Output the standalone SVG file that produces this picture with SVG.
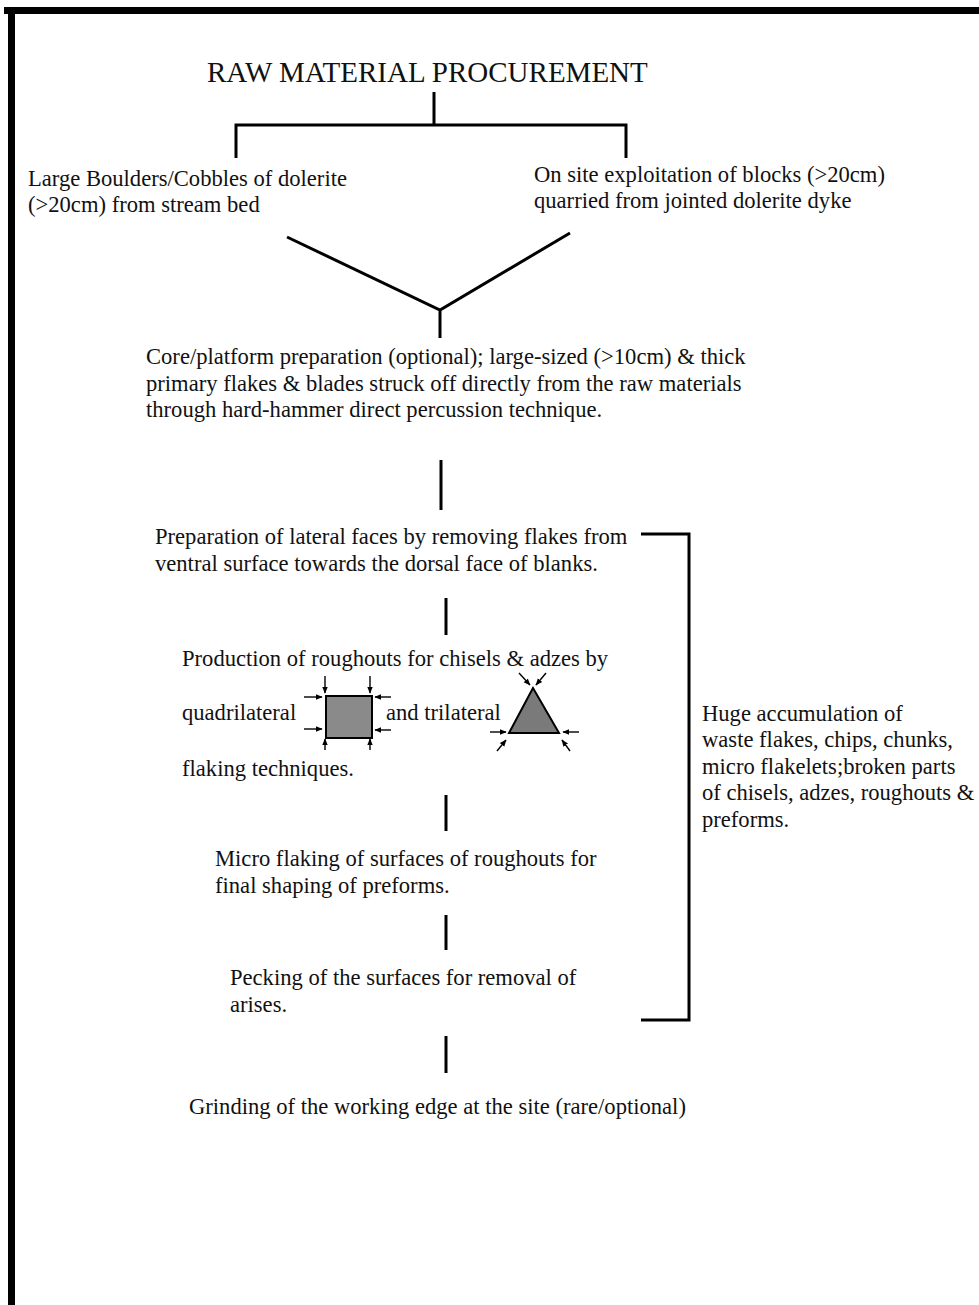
<svg xmlns="http://www.w3.org/2000/svg" width="979" height="1305" viewBox="0 0 979 1305">
<style>
text{font-family:"Liberation Serif","Times New Roman",serif;fill:#111;}
.t{font-size:22.6px;}
.title{font-size:29px;}
.ln{stroke:#000;stroke-width:3;fill:none;}
.ar{stroke:#000;stroke-width:1.4;fill:none;}
</style>
<defs>
<marker id="ah" viewBox="0 0 10 10" refX="9" refY="5" markerWidth="7" markerHeight="7" orient="auto" markerUnits="userSpaceOnUse">
<path d="M0,1 L10,5 L0,9 z" fill="#000"/>
</marker>
</defs>
<rect width="979" height="1305" fill="#fff"/>
<g id="border">
<rect x="4" y="7" width="975" height="7" fill="#000"/>
<rect x="8" y="7" width="7" height="1298" fill="#000"/>
</g>
<g id="connectors" class="ln">
<path d="M434,92 V124 M236,158 V125 H626 V158"/>
<path d="M287,237 L440,310 L570,233 M440,310 V338"/>
<path d="M441,460 V510"/>
<path d="M446,598 V635"/>
<path d="M446,795 V831"/>
<path d="M446,915 V950"/>
<path d="M446,1036 V1073"/>
<path d="M641,534 H689 V1020 H641"/>
</g>
<g id="title"><text class="title" x="207" y="82">RAW MATERIAL PROCUREMENT</text></g>
<g id="n-boulders"><text class="t" x="28" y="186">Large Boulders/Cobbles of dolerite</text><text class="t" x="28" y="212">(&gt;20cm) from stream bed</text></g>
<g id="n-blocks"><text class="t" x="534" y="182">On site exploitation of blocks (&gt;20cm)</text><text class="t" x="534" y="208">quarried from jointed dolerite dyke</text></g>
<g id="n-core"><text class="t" x="146" y="364">Core/platform preparation (optional); large-sized (&gt;10cm) &amp; thick</text><text class="t" x="146" y="391">primary flakes &amp; blades struck off directly from the raw materials</text><text class="t" x="146" y="417">through hard-hammer direct percussion technique.</text></g>
<g id="n-lateral"><text class="t" x="155" y="544">Preparation of lateral faces by removing flakes from</text><text class="t" x="155" y="571">ventral surface towards the dorsal face of blanks.</text></g>
<g id="n-roughouts">
<text class="t" x="182" y="666">Production of roughouts for chisels &amp; adzes by</text>
<text class="t" x="182" y="720">quadrilateral</text>
<text class="t" x="386" y="720">and trilateral</text>
<text class="t" x="182" y="776">flaking techniques.</text>
<rect x="326" y="696" width="46" height="42" fill="#8a8a8a" stroke="#000" stroke-width="2"/>
<g class="ar" marker-end="url(#ah)">
<path d="M325,676 V693"/><path d="M370,676 V693"/>
<path d="M304,697 H322"/><path d="M304,729 H322"/>
<path d="M391,697 H375"/><path d="M391,730 H375"/>
<path d="M325,750 V739"/><path d="M370,750 V739"/>
</g>
<polygon points="533,688 509,733 559,733" fill="#7a7a7a" stroke="#000" stroke-width="2"/>
<g class="ar" marker-end="url(#ah)">
<path d="M519,673 L530,685"/><path d="M546,673 L536,685"/>
<path d="M490,732 H506"/><path d="M579,732 H563"/>
<path d="M497,751 L506,740"/><path d="M570,751 L562,740"/>
</g>
</g>
<g id="n-micro"><text class="t" x="215" y="866">Micro flaking of surfaces of roughouts for</text><text class="t" x="215" y="893">final shaping of preforms.</text></g>
<g id="n-pecking"><text class="t" x="230" y="985">Pecking of the surfaces for removal of</text><text class="t" x="230" y="1012">arises.</text></g>
<g id="n-grinding"><text class="t" x="189" y="1114">Grinding of the working edge at the site (rare/optional)</text></g>
<g id="n-waste"><text class="t" x="702" y="721">Huge accumulation of</text><text class="t" x="702" y="747">waste flakes, chips, chunks,</text><text class="t" x="702" y="774">micro flakelets;broken parts</text><text class="t" x="702" y="800">of chisels, adzes, roughouts &amp;</text><text class="t" x="702" y="827">preforms.</text></g>
</svg>
